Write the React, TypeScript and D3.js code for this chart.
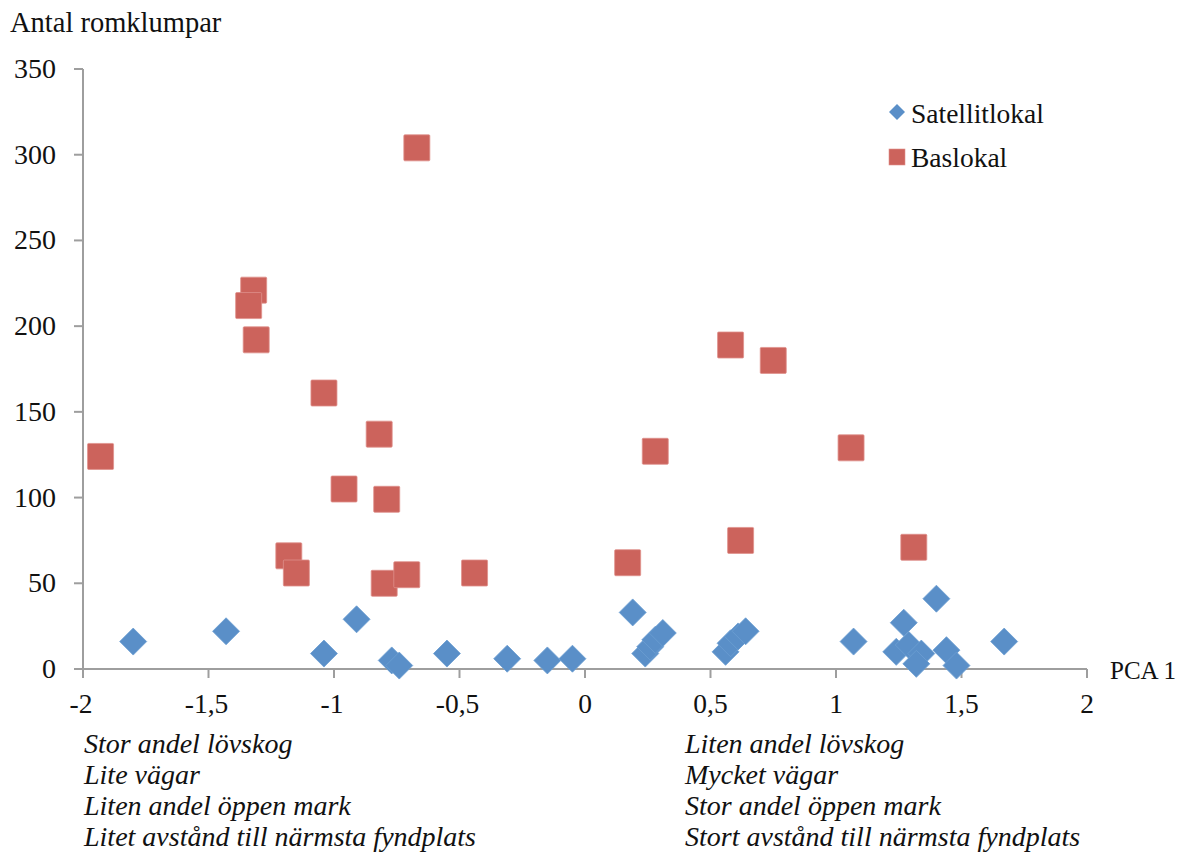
import React from "react";
import * as d3 from "d3";

const satX = [-1.80, -1.43, -1.04, -0.91, -0.77, -0.74, -0.55, -0.31, -0.15, -0.05, 0.19, 0.24, 0.26, 0.28, 0.31, 0.56, 0.58, 0.61, 0.64, 1.07, 1.40, 1.27, 1.24, 1.29, 1.34, 1.32, 1.44, 1.48, 1.67];
const satY = [16, 22, 9, 29, 5, 2, 9, 6, 5, 6, 33, 9, 13, 17, 21, 10, 15, 19, 22, 16, 41, 27, 10, 14, 9, 3, 11, 2, 16];
const basX = [-1.93, -1.32, -1.34, -1.31, -1.04, -0.82, -0.96, -0.79, -0.67, -1.18, -1.15, -0.80, -0.71, -0.44, 0.17, 0.28, 0.58, 0.75, 0.62, 1.06, 1.31];
const basY = [124, 221, 212, 192, 161, 137, 105, 99, 304, 66, 56, 50, 55, 56, 62, 127, 189, 180, 75, 129, 71];

const xTicks = [-2, -1.5, -1, -0.5, 0, 0.5, 1, 1.5, 2];
const yTicks = [0, 50, 100, 150, 200, 250, 300, 350];
const leftNotes = ["Stor andel lövskog", "Lite vägar", "Liten andel öppen mark", "Litet avstånd till närmsta fyndplats"];
const rightNotes = ["Liten andel lövskog", "Mycket vägar", "Stor andel öppen mark", "Stort avstånd till närmsta fyndplats"];
const seriesNames = ["Satellitlokal", "Baslokal"];

const BLUE = "#5A8FC8";
const RED = "#CC635C";
const AXIS = "#9E9E9E";
const FONT = "'Liberation Serif', serif";
const FS = 27.5;
const FI = 28;

export default function App() {
  const x = d3.scaleLinear().domain([-2, 2]).range([83, 1087]);
  const y = d3.scaleLinear().domain([0, 350]).range([669, 69]);
  const fmt = (v: number) => String(v).replace(".", ",");
  const dHalf = 13.5;
  const sHalf = 13;
  return (
    <svg width={1179} height={852} style={{ position: "absolute", left: 0, top: 0, background: "#fff" }} fontFamily={FONT}>
      <text x={10} y={32} fontSize={28.5} fill="#111">Antal romklumpar</text>
      {/* axes */}
      <line x1={x(-2)} x2={x(-2)} y1={y(350)} y2={y(0)} stroke={AXIS} strokeWidth={2} />
      <line x1={x(-2) - 9} x2={x(2)} y1={y(0)} y2={y(0)} stroke={AXIS} strokeWidth={2} />
      {yTicks.map((t) => (
        <g key={"y" + t}>
          <line x1={x(-2) - 9} x2={x(-2)} y1={y(t)} y2={y(t)} stroke={AXIS} strokeWidth={2} />
          <text x={56} y={y(t) + 9} fontSize={28} textAnchor="end" fill="#111">{fmt(t)}</text>
        </g>
      ))}
      {xTicks.map((t) => (
        <g key={"x" + t}>
          <line x1={x(t)} x2={x(t)} y1={y(0)} y2={y(0) + 9} stroke={AXIS} strokeWidth={2} />
          <text x={x(t) + (t < 0 ? -2 : 0)} y={713} fontSize={FS} textAnchor="middle" fill="#111">{fmt(t)}</text>
        </g>
      ))}
      <text x={1110} y={679} fontSize={25} fill="#111">PCA 1</text>
      {/* series */}
      {satX.map((v, i) => {
        const cx = x(v), cy = y(satY[i]);
        return (
          <path key={"s" + i} d={`M${cx},${cy - dHalf}L${cx + dHalf},${cy}L${cx},${cy + dHalf}L${cx - dHalf},${cy}Z`}
            fill={BLUE} stroke="#6C9ED2" strokeWidth={0.8} strokeLinejoin="round" />
        );
      })}
      {basX.map((v, i) => {
        const cx = x(v), cy = y(basY[i]);
        return (
          <rect key={"b" + i} x={cx - sHalf} y={cy - sHalf} width={sHalf * 2} height={sHalf * 2} rx={1}
            fill={RED} stroke="#E0918C" strokeWidth={0.8} />
        );
      })}
      {/* legend */}
      <path d="M897,104L905,112L897,120L889,112Z" fill={BLUE} />
      <text x={911} y={123} fontSize={FS} fill="#111">{seriesNames[0]}</text>
      <rect x={889} y={149} width={16} height={16} fill={RED} stroke="#E0918C" strokeWidth={0.6} />
      <text x={911} y={167} fontSize={FS} fill="#111">{seriesNames[1]}</text>
      {/* notes */}
      {leftNotes.map((t, i) => (
        <text key={"l" + i} x={84} y={753 + i * 31} fontSize={FI} fontStyle="italic" fill="#111">{t}</text>
      ))}
      {rightNotes.map((t, i) => (
        <text key={"r" + i} x={685} y={753 + i * 31} fontSize={FI} fontStyle="italic" fill="#111">{t}</text>
      ))}
    </svg>
  );
}
